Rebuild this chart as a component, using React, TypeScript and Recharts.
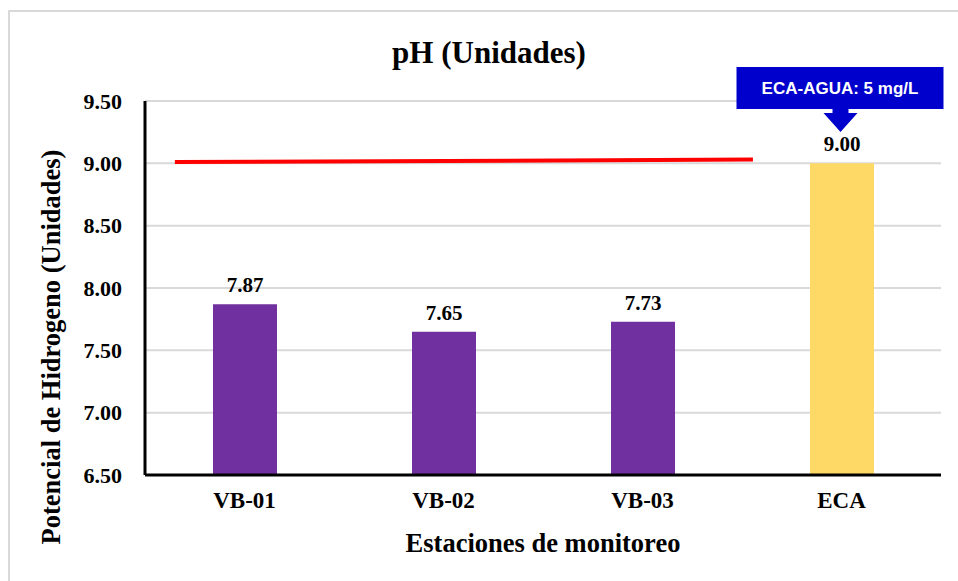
import React from "react";
import {
  BarChart,
  Bar,
  XAxis,
  YAxis,
  CartesianGrid,
  Cell,
  LabelList,
  ReferenceLine,
  ReferenceDot,
} from "recharts";

const categories = ["VB-01", "VB-02", "VB-03", "ECA"];
const phValues = [7.87, 7.65, 7.73, 9.0];
const barColors = ["#7030A0", "#7030A0", "#7030A0", "#FFD966"];
const yTicks = [6.5, 7.0, 7.5, 8.0, 8.5, 9.0, 9.5];
const limitLineX = [0.15, 3.055];
const limitLineY = [9.01, 9.03];
const calloutText = "ECA-AGUA: 5 mg/L";

const data = categories.map((c, i) => ({ name: c, value: phValues[i], pos: i + 0.5 }));

const SERIF = "'Liberation Serif', 'Times New Roman', serif";
const SANS = "'Liberation Sans', Arial, sans-serif";

const Callout = (props: any) => {
  const { cx, cy } = props;
  if (cx == null || cy == null) return null;
  const left = cx - 105;
  const right = cx + 102;
  const top = cy - 34;
  const bottom = cy + 8;
  const ax = cx - 1;
  const path = `M${left},${top} L${right},${top} L${right},${bottom} L${ax + 8},${bottom} L${ax + 8},${bottom + 4} L${ax + 17},${bottom + 4} L${ax},${bottom + 23} L${ax - 17},${bottom + 4} L${ax - 8},${bottom + 4} L${ax - 8},${bottom} L${left},${bottom} Z`;
  return (
    <g>
      <path d={path} fill="#0000CC" />
      <text
        x={(left + right) / 2}
        y={top + 27}
        textAnchor="middle"
        fill="#FFFFFF"
        fontFamily={SANS}
        fontWeight="bold"
        fontSize={17}
      >
        {calloutText}
      </text>
    </g>
  );
};

export default function App() {
  return (
    <div style={{ position: "absolute", left: 0, top: 0, width: 958, height: 581, background: "#fff", overflow: "hidden" }}>
      <div
        style={{
          position: "absolute",
          left: 8,
          top: 10,
          width: 1000,
          height: 1000,
          border: "2px solid #D9D9D9",
          boxSizing: "border-box",
        }}
      />
      <div style={{ position: "absolute", left: 0, top: 0 }}>
        <BarChart
          width={958}
          height={581}
          data={data}
          margin={{ top: 101, right: 17, left: 0, bottom: 0 }}
        >
          <CartesianGrid vertical={false} stroke="#D9D9D9" strokeWidth={2} />
          <XAxis
            dataKey="name"
            height={106}
            axisLine={{ stroke: "#000", strokeWidth: 3 }}
            tickLine={false}
            tickSize={0}
            tickMargin={17}
            tick={{ fontSize: 23, fontWeight: "bold", fill: "#000", fontFamily: SERIF }}
            label={{
              value: "Estaciones de monitoreo",
              position: "insideBottom",
              offset: 29,
              style: { fontSize: 26.5, fontWeight: "bold", fill: "#000", fontFamily: SERIF },
            }}
          />
          <XAxis
            xAxisId="n"
            dataKey="pos"
            type="number"
            domain={[0, 4]}
            allowDataOverflow
            hide
          />
          <YAxis
            width={145}
            domain={[6.5, 9.5]}
            ticks={yTicks}
            interval={0}
            allowDataOverflow
            tickFormatter={(v: number) => v.toFixed(2)}
            axisLine={{ stroke: "#000", strokeWidth: 3 }}
            tickLine={false}
            tickSize={0}
            tickMargin={23}
            tick={{ fontSize: 22, fontWeight: "bold", fill: "#000", fontFamily: SERIF }}
          />
          <Bar dataKey="value" barSize={64} isAnimationActive={false}>
            {data.map((d, i) => (
              <Cell key={d.name} fill={barColors[i]} />
            ))}
            <LabelList
              dataKey="value"
              position="top"
              offset={12}
              formatter={(v: any) => Number(v).toFixed(2)}
              style={{ fontSize: 21, fontWeight: "bold", fill: "#000", fontFamily: SERIF }}
            />
          </Bar>
          <ReferenceLine
            xAxisId="n"
            ifOverflow="visible"
            segment={[
              { x: limitLineX[0], y: limitLineY[0] },
              { x: limitLineX[1], y: limitLineY[1] },
            ]}
            stroke="#FF0000"
            strokeWidth={4}
          />
          <ReferenceDot x="ECA" y={9.5} ifOverflow="visible" shape={Callout} />
        </BarChart>
      </div>
      <svg
        width={958}
        height={581}
        style={{ position: "absolute", left: 0, top: 0, pointerEvents: "none" }}
      >
        <text
          x={489}
          y={63}
          textAnchor="middle"
          fontFamily={SERIF}
          fontWeight="bold"
          fontSize={31}
          fill="#000"
        >
          pH (Unidades)
        </text>
        <text
          x={60}
          y={347}
          textAnchor="middle"
          fontFamily={SERIF}
          fontWeight="bold"
          fontSize={26.5}
          fill="#000"
          transform="rotate(-90, 60, 347)"
        >
          Potencial de Hidrogeno (Unidades)
        </text>
      </svg>
    </div>
  );
}
